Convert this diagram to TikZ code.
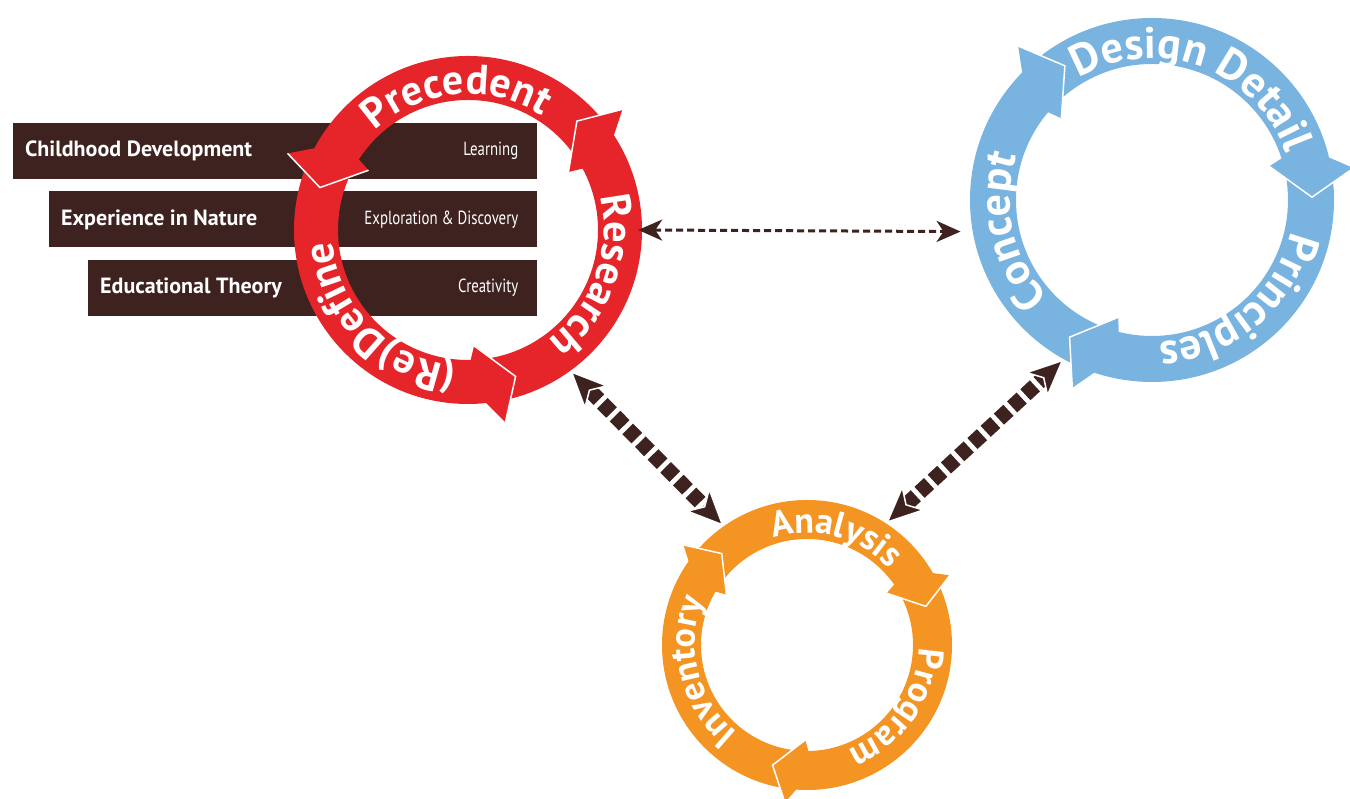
\documentclass[tikz,border=0pt]{standalone}
\usepackage{fontspec}
\setmainfont{PT Sans}
\newfontfamily\condfont[FakeStretch=0.78]{PT Sans}
\usepackage{tikz}
\usetikzlibrary{arrows.meta, positioning, decorations.text}
\definecolor{cyred}{RGB}{230,37,42}
\definecolor{cyblue}{RGB}{121,179,224}
\definecolor{cyorange}{RGB}{244,148,35}
\definecolor{barbrown}{RGB}{62,34,31}
\newcommand\redlbl{\color{white}\fontsize{42}{42}\selectfont\bfseries}
\newcommand\bluelbl{\color{white}\fontsize{44}{44}\selectfont\bfseries}
\newcommand\orangelbl{\color{white}\fontsize{36}{36}\selectfont\bfseries}

\begin{document}
\begin{tikzpicture}[
  x=1pt, y=1pt,
  bar/.style={rectangle, fill=barbrown, minimum height=56pt, inner sep=0pt, anchor=west},
  barlbl/.style={text=white, font=\fontsize{22}{22}\selectfont\bfseries, inner sep=0pt},
  barsub/.style={text=white, font=\condfont\fontsize{19}{19}\selectfont, inner sep=0pt},
  ring/.style={circle, inner sep=0pt},
  vee/.style={white, line width=1.5pt, line join=miter},
  link/.style={draw=barbrown, line width=3pt, dash pattern=on 7pt off 4pt,
    {Stealth[length=24pt, width=21pt, inset=7pt]}-{Stealth[length=24pt, width=21pt, inset=7pt]}},
  biglink/.style={draw=barbrown, line width=15pt, dash pattern=on 13pt off 5pt,
    {Stealth[length=38pt, width=34pt, inset=10pt, fill=barbrown, color=white, line width'=1.5pt]}-{Stealth[length=38pt, width=34pt, inset=10pt, fill=barbrown, color=white, line width'=1.5pt]}}
]
\path[use as bounding box] (0,0) rectangle (1350,799);

% theme bars behind the red cycle
\node[bar, minimum width=524pt] (b1) at (13,648) {};
\node[bar, minimum width=488pt, below=12pt of b1.south east, anchor=north east] (b2) {};
\node[bar, minimum width=449pt, below=12pt of b2.south east, anchor=north east] (b3) {};
\node[barlbl, right=12pt of b1.west] (t1) {Childhood Development};
\node[barlbl, right=12pt of b2.west] (t2) {Experience in Nature};
\node[barlbl, right=12pt of b3.west] (t3) {Educational Theory};
\node[barsub, left=19pt of b1.east] (s1) {Learning};
\node[barsub, left=19pt of b2.east] (s2) {Exploration \& Discovery};
\node[barsub, left=19pt of b3.east] (s3) {Creativity};

\node[ring, minimum size=348pt] (red) at (468,569) {};
\node[ring, minimum size=364pt] (blue) at (1152,599) {};
\node[ring, minimum size=290pt] (orange) at (807,154) {};

% red cycle (counter-clockwise)
\fill[cyred, even odd rule] (red.center) circle[radius=174] circle[radius=130];
\begin{scope}[shift={(red.center)}]
  \foreach \t in {164,288,45}{
    \fill[cyred] ({\t-7}:196) -- (\t:154) -- ({\t-15}:116) -- ({\t-19}:152) -- cycle;
    \draw[vee] ({\t-7}:196) -- (\t:154) -- ({\t-15}:116);
  }
  \path[decorate, decoration={text along path, text align=center, text={|\redlbl|Precedent}}]
    (160:136) arc[start angle=160, end angle=30, radius=136];
  \path[decorate, decoration={text along path, text align=center, text={|\redlbl|Research}}]
    (45:136) arc[start angle=45, end angle=-85, radius=136];
  \path[decorate, decoration={text along path, text align=center, text={|\redlbl|(Re)Define}}]
    (290:136) arc[start angle=290, end angle=160, radius=136];
\end{scope}

% blue cycle (clockwise)
\fill[cyblue, even odd rule] (blue.center) circle[radius=182] circle[radius=136];
\begin{scope}[shift={(blue.center)}]
  \foreach \t in {123,1,239}{
    \fill[cyblue] ({\t+8}:204) -- (\t:160) -- ({\t+15}:122) -- ({\t+19}:159) -- cycle;
    \draw[vee] ({\t+8}:204) -- (\t:160) -- ({\t+15}:122);
  }
  \path[decorate, decoration={text along path, text align=center, text={|\bluelbl|Design Detail}}]
    (160:142) arc[start angle=160, end angle=-20, radius=142];
  \path[decorate, decoration={text along path, text align=center, text={|\bluelbl|Principles}}]
    (30:142) arc[start angle=30, end angle=-130, radius=142];
  \path[decorate, decoration={text along path, text align=center, text={|\bluelbl|Concept}}]
    (260:142) arc[start angle=260, end angle=125, radius=142];
\end{scope}

% orange cycle (clockwise)
\fill[cyorange, even odd rule] (orange.center) circle[radius=145] circle[radius=106];
\begin{scope}[shift={(orange.center)}]
  \foreach \t in {133,18,254}{
    \fill[cyorange] ({\t+8}:159) -- (\t:125) -- ({\t+15}:95) -- ({\t+19}:125) -- cycle;
    \draw[vee] ({\t+8}:159) -- (\t:125) -- ({\t+15}:95);
  }
  \path[decorate, decoration={text along path, text align=center, text={|\orangelbl|Analysis}}]
    (150:112) arc[start angle=150, end angle=0, radius=112];
  \path[decorate, decoration={text along path, text align=center, text={|\orangelbl|Program}}]
    (40:112) arc[start angle=40, end angle=-110, radius=112];
  \path[decorate, decoration={text along path, text align=center, text={|\orangelbl|Inventory}}]
    (270:112) arc[start angle=270, end angle=118, radius=112];
\end{scope}

\draw[link, shorten <=-4pt, shorten >=12pt] (red.-0.5) -- (blue.190);
\draw[biglink] (red.-54) -- (orange.125);
\draw[biglink] (orange.57) -- (blue.241);
\end{tikzpicture}
\end{document}
